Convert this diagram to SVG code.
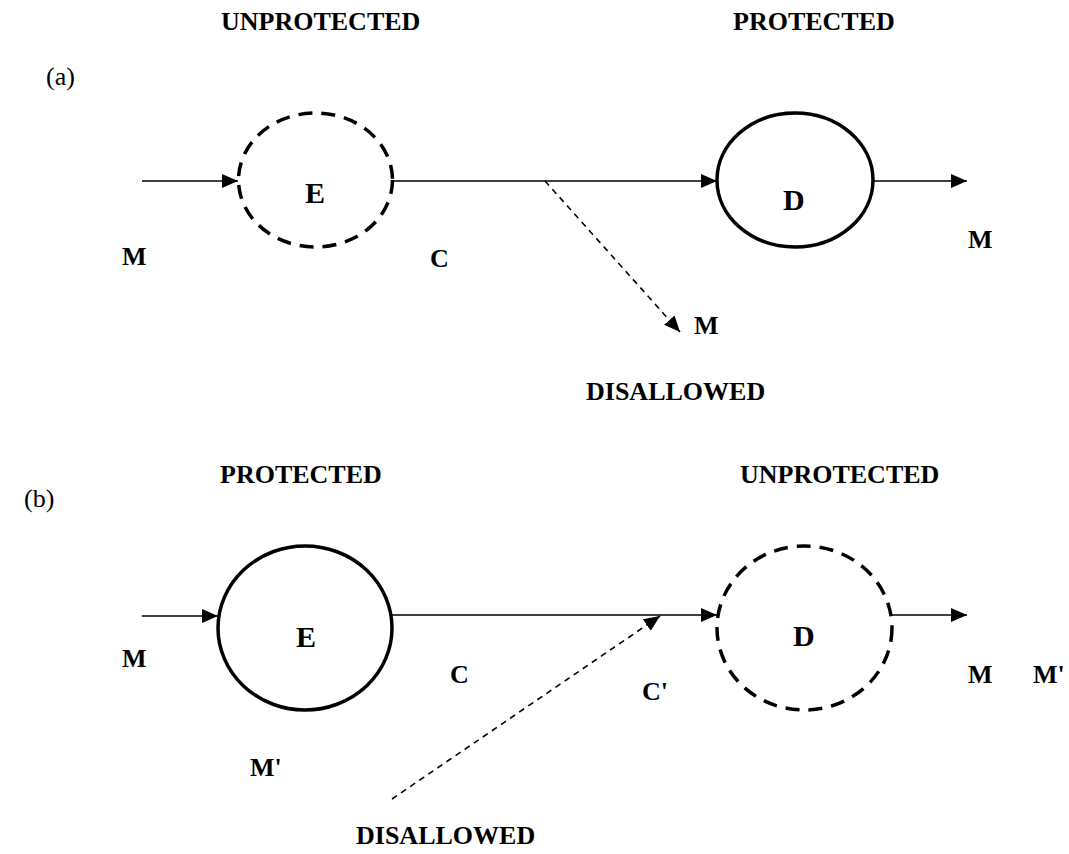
<svg xmlns="http://www.w3.org/2000/svg" width="1069" height="854" viewBox="0 0 1069 854">
  <style>
    text { font-family: "Liberation Serif", "Times New Roman", serif; font-size: 26px; font-weight: bold; fill: #000; }
    text.tag { font-weight: normal; }
    text.node { font-size: 30px; }
    .node-solid { fill: none; stroke: #000; stroke-width: 3.5; }
    .node-dashed { fill: none; stroke: #000; stroke-width: 3.5; stroke-dasharray: 14 9; }
    .flow { fill: none; stroke: #000; stroke-width: 1.6; marker-end: url(#head); }
    .leak { fill: none; stroke: #000; stroke-width: 1.6; stroke-dasharray: 6 5; marker-end: url(#head); }
  </style>
  <defs>
    <marker id="head" viewBox="0 0 16 14" refX="16" refY="7" markerWidth="16" markerHeight="14" markerUnits="userSpaceOnUse" orient="auto">
      <path d="M0,0 L16,7 L0,14 Z" fill="#000"/>
    </marker>
  </defs>
  <rect width="1069" height="854" fill="#fff"/>

  <!-- panel (a): encrypt in the open, decrypt in the protected domain -->
  <g id="a-headings">
    <text x="221" y="30">UNPROTECTED</text>
    <text x="733" y="30">PROTECTED</text>
    <text class="tag" x="46" y="85">(a)</text>
  </g>
  <g id="a-node-E">
    <ellipse class="node-dashed" cx="315.5" cy="180" rx="77" ry="67"/>
    <text class="node" x="305" y="203">E</text>
  </g>
  <g id="a-node-D">
    <ellipse class="node-solid" cx="795" cy="180" rx="78" ry="67"/>
    <text class="node" x="783" y="210">D</text>
  </g>
  <g id="a-connectors">
    <line class="flow" x1="142" y1="181" x2="238" y2="181"/>
    <line class="flow" x1="393" y1="181" x2="717" y2="181"/>
    <line class="flow" x1="873" y1="181" x2="967" y2="181"/>
    <line class="leak" x1="545" y1="181" x2="680" y2="332"/>
  </g>
  <g id="a-labels">
    <text x="122" y="265">M</text>
    <text x="430" y="267">C</text>
    <text x="968" y="248">M</text>
    <text x="694" y="334">M</text>
    <text x="586" y="400">DISALLOWED</text>
  </g>

  <!-- panel (b): encrypt in the protected domain, decrypt in the open -->
  <g id="b-headings">
    <text x="220" y="483">PROTECTED</text>
    <text x="740" y="483">UNPROTECTED</text>
    <text class="tag" x="24" y="507">(b)</text>
  </g>
  <g id="b-node-E">
    <ellipse class="node-solid" cx="305" cy="628" rx="87" ry="82"/>
    <text class="node" x="296" y="647">E</text>
  </g>
  <g id="b-node-D">
    <ellipse class="node-dashed" cx="804.5" cy="628" rx="87.5" ry="82"/>
    <text class="node" x="793" y="646">D</text>
  </g>
  <g id="b-connectors">
    <line class="flow" x1="142" y1="616" x2="218" y2="616"/>
    <line class="flow" x1="392" y1="615" x2="717" y2="615"/>
    <line class="flow" x1="892" y1="615" x2="967" y2="615"/>
    <line class="leak" x1="392" y1="799" x2="660" y2="616"/>
  </g>
  <g id="b-labels">
    <text x="122" y="667">M</text>
    <text x="450" y="683">C</text>
    <text x="642" y="700">C'</text>
    <text x="968" y="683">M</text>
    <text x="1033" y="683">M'</text>
    <text x="250" y="776">M'</text>
    <text x="356" y="844">DISALLOWED</text>
  </g>
</svg>
